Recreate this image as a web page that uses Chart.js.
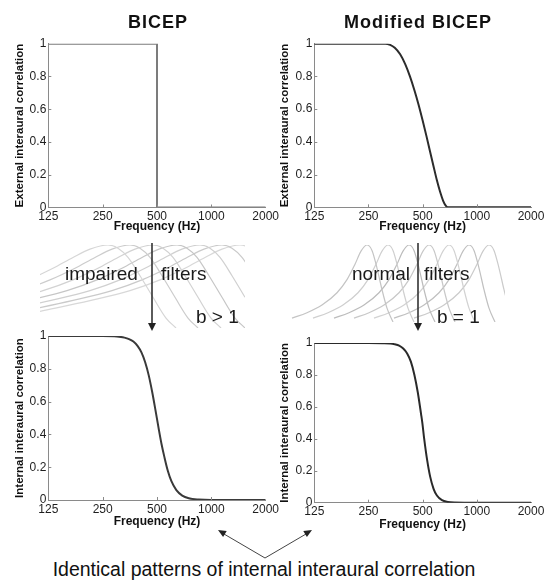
<!DOCTYPE html>
<html><head><meta charset="utf-8">
<script src="https://cdn.jsdelivr.net/npm/chart.js@4.4.1/dist/chart.umd.min.js"></script>
<style>
body{margin:0;background:#fff;width:553px;height:580px;overflow:hidden;position:relative;font-family:"Liberation Sans",Arial,sans-serif;color:#111}
canvas{position:absolute}
.t{position:absolute;white-space:nowrap;line-height:1}
svg{position:absolute;left:0;top:0}
</style></head><body>
<canvas id="fImp"></canvas>
<canvas id="fNorm"></canvas>
<canvas id="cTL"></canvas>
<canvas id="cTR"></canvas>
<canvas id="cBL"></canvas>
<canvas id="cBR"></canvas>
<div class="t" style="left:158px;top:13px;font-size:18px;font-weight:bold;letter-spacing:1px;transform:translateX(-50%)">BICEP</div>
<div class="t" style="left:418px;top:13px;font-size:18px;font-weight:bold;letter-spacing:1px;transform:translateX(-50%)">Modified BICEP</div>
<div class="t" style="left:65px;top:264px;font-size:19px;color:#1a1a1a">impaired</div>
<div class="t" style="left:161px;top:264px;font-size:19px;color:#1a1a1a">filters</div>
<div class="t" style="left:196px;top:307px;font-size:19px;color:#1a1a1a">b &gt; 1</div>
<div class="t" style="left:352px;top:264px;font-size:19px;color:#1a1a1a">normal</div>
<div class="t" style="left:424px;top:264px;font-size:19px;color:#1a1a1a">filters</div>
<div class="t" style="left:437px;top:307px;font-size:19px;color:#1a1a1a">b = 1</div>
<div class="t" style="left:264px;top:560px;font-size:19.5px;color:#111;transform:translateX(-50%)">Identical patterns of internal interaural correlation</div>
<svg width="553" height="580">
<line x1="152" y1="243" x2="152" y2="324" stroke="#333" stroke-width="1.6"/>
<polygon points="148,323 156,323 152,331" fill="#222"/>
<line x1="418" y1="243" x2="418" y2="324" stroke="#333" stroke-width="1.6"/>
<polygon points="414,323 422,323 418,331" fill="#222"/>
<line x1="265" y1="558" x2="224" y2="534" stroke="#444" stroke-width="1"/>
<polygon points="218,530 226.7,531.1 223.1,537.1" fill="#222"/>
<line x1="265" y1="558" x2="306" y2="534" stroke="#444" stroke-width="1"/>
<polygon points="312,530 306.9,537.1 303.3,531.1" fill="#222"/>
</svg>
<script>
// ---- data ----
const freqTicks = [125, 250, 500, 1000, 2000];
const corrTicks = [0, 0.2, 0.4, 0.6, 0.8, 1];

const bicepFreq = [125, 500, 500, 2000];
const bicepCorr = [1, 1, 0, 0];

const modFreq = [125, 250, 310, 330, 350, 375, 400, 425, 450, 475, 500, 525, 550, 575, 600, 625, 650, 670, 690, 800, 2000];
const modCorr = [1, 1, 1, 0.993, 0.975, 0.935, 0.875, 0.8, 0.715, 0.625, 0.53, 0.435, 0.34, 0.25, 0.165, 0.095, 0.04, 0.012, 0, 0, 0];

const intImpFreq = [125, 250, 300, 330, 350, 370, 390, 410, 430, 450, 470, 490, 510, 530, 550, 575, 600, 640, 690, 750, 850, 1000, 2000];
const intImpCorr = [1, 1, 0.997, 0.99, 0.981, 0.966, 0.94, 0.9, 0.84, 0.76, 0.66, 0.55, 0.44, 0.34, 0.26, 0.175, 0.116, 0.06, 0.027, 0.011, 0.003, 0, 0];

const intNormFreq = [125, 250, 300, 330, 350, 370, 390, 410, 430, 450, 470, 490, 498, 510, 530, 550, 575, 600, 640, 690, 750, 850, 2000];
const intNormCorr = [1, 1, 0.999, 0.997, 0.992, 0.984, 0.966, 0.935, 0.883, 0.8, 0.69, 0.555, 0.5, 0.4, 0.265, 0.165, 0.087, 0.045, 0.016, 0.005, 0.001, 0, 0];

// filter illustration (position along an abstract frequency strip, relative response)
const impairedShapeDx = [-200, -150, -110, -80, -55, -35, -18, 0, 10, 20, 32, 45, 58, 68];
const impairedShapeR  = [0.2, 0.33, 0.45, 0.58, 0.72, 0.85, 0.95, 1, 0.96, 0.85, 0.63, 0.37, 0.12, 0];
const impairedPeaks   = [108, 130, 153, 177, 200, 222, 240];
const normalShapeDx = [-75, -60, -45, -30, -20, -12, -6, 0, 5, 10, 15, 20, 26];
const normalShapeR  = [0.05, 0.12, 0.22, 0.38, 0.55, 0.75, 0.92, 1, 0.93, 0.7, 0.42, 0.18, 0];
const normalPeaks   = [367, 388, 409, 429, 449, 469, 489];

const impairedGrays = ['#d6d6d6', '#cccccc', '#d2d2d2', '#c6c6c6', '#d0d0d0', '#cacaca', '#d8d8d8'];
const normalGrays   = ['#c4c4c4', '#cfcfcf', '#bcbcbc', '#c8c8c8', '#d2d2d2', '#c0c0c0', '#cbcbcb'];

const FONT = '"Liberation Sans", Arial, sans-serif';
Chart.defaults.font.family = FONT;

const innerTicks = {
  id: 'innerTicks',
  afterDatasetsDraw(chart) {
    const {ctx, chartArea: a, scales: {x, y}} = chart;
    ctx.save();
    ctx.strokeStyle = '#8a8a8a';
    ctx.lineWidth = 1;
    ctx.beginPath();
    freqTicks.slice(1, -1).forEach(v => {
      const p = Math.round(x.getPixelForValue(v)) + 0.5;
      ctx.moveTo(p, a.bottom); ctx.lineTo(p, a.bottom - 3);
    });
    corrTicks.slice(1, -1).forEach(v => {
      const p = Math.round(y.getPixelForValue(v)) + 0.5;
      ctx.moveTo(a.left, p); ctx.lineTo(a.left + 3, p);
    });
    ctx.stroke();
    ctx.restore();
  }
};

function pts(xs, ys) { return xs.map((v, i) => ({x: v, y: ys[i]})); }

function makePanel(id, box, plot, xTitleY, yTitleX, yTitle, ds) {
  const c = document.getElementById(id);
  c.style.left = box.x + 'px'; c.style.top = box.y + 'px';
  c.width = box.w; c.height = box.h;
  c.style.width = box.w + 'px'; c.style.height = box.h + 'px';
  const yAxisW = plot.L - box.x;
  const xAxisH = (xTitleY + 7.2) - plot.B;
  const padTop = plot.T - box.y;
  const padRight = box.x + box.w - plot.R;
  const padBottom = box.y + box.h - plot.B - xAxisH;
  new Chart(c, {
    type: 'line',
    data: {datasets: ds},
    options: {
      responsive: false, animation: false, devicePixelRatio: 1,
      layout: {padding: {left: 0, top: padTop, right: padRight, bottom: padBottom}},
      plugins: {legend: {display: false}, tooltip: {enabled: false}},
      elements: {point: {radius: 0}},
      scales: {
        x: {
          type: 'logarithmic', min: 125, max: 2000,
          afterBuildTicks: s => { s.ticks = freqTicks.map(v => ({value: v})); },
          afterFit: s => { s.height = xAxisH; },
          grid: {display: true, drawOnChartArea: false, drawTicks: false},
          border: {display: true, color: '#8a8a8a', width: 1},
          ticks: {autoSkip: false, maxRotation: 0, padding: 2, color: '#1e1e1e',
                  font: {size: 12}, callback: v => String(v)},
          title: {display: true, text: 'Frequency (Hz)', color: '#111',
                  font: {size: 12, weight: 'bold'}, padding: {top: 0, bottom: 0}}
        },
        y: {
          min: 0, max: 1,
          afterBuildTicks: s => { s.ticks = corrTicks.map(v => ({value: v})); },
          afterFit: s => { s.width = yAxisW; },
          grid: {display: true, drawOnChartArea: false, drawTicks: false},
          border: {display: true, color: '#8a8a8a', width: 1},
          ticks: {padding: 2, color: '#1e1e1e', font: {size: 12},
                  callback: v => (v === 0 ? '0' : v === 1 ? '1' : v.toFixed(1))},
          title: {display: true, text: yTitle, color: '#111',
                  font: {size: 11.5, weight: 'bold'},
                  padding: {top: yTitleX - box.x - 6.9, bottom: 0}}
        }
      }
    },
    plugins: [innerTicks]
  });
}

function lineDs(xs, ys, color, w, smooth) {
  return {data: pts(xs, ys), borderColor: color, borderWidth: w, pointRadius: 0,
          tension: 0, cubicInterpolationMode: smooth ? 'monotone' : 'default', fill: false};
}

makePanel('cTL', {x: 0, y: 28, w: 290, h: 212}, {L: 48.3, T: 43.7, R: 265.7, B: 207.5}, 227, 20,
  'External interaural correlation', [lineDs(bicepFreq, bicepCorr, '#7c7c7c', 2, false)]);
makePanel('cTR', {x: 270, y: 28, w: 283, h: 212}, {L: 314.3, T: 43.7, R: 531, B: 207.3}, 227, 285,
  'External interaural correlation', [lineDs(modFreq, modCorr, '#2c2c2c', 2, true)]);
makePanel('cBL', {x: 0, y: 325, w: 290, h: 210}, {L: 48.3, T: 336, R: 265.7, B: 500}, 522, 20,
  'Internal interaural correlation', [lineDs(intImpFreq, intImpCorr, '#3a3a3a', 2, true)]);
makePanel('cBR', {x: 270, y: 330, w: 283, h: 210}, {L: 314.3, T: 343, R: 531, B: 502.7}, 525, 285,
  'Internal interaural correlation', [lineDs(intNormFreq, intNormCorr, '#2a2a2a', 2, true)]);

function makeFilters(id, box, areaTop, areaBottom, peaks, dxs, rs, grays) {
  const c = document.getElementById(id);
  c.style.left = box.x + 'px'; c.style.top = box.y + 'px';
  c.width = box.w; c.height = box.h;
  c.style.width = box.w + 'px'; c.style.height = box.h + 'px';
  const ds = peaks.map((p, i) => ({
    data: dxs.map((d, k) => ({x: p + d, y: rs[k]})),
    borderColor: grays[i % grays.length], borderWidth: 1.2, pointRadius: 0,
    cubicInterpolationMode: 'monotone', fill: false
  }));
  new Chart(c, {
    type: 'line',
    data: {datasets: ds},
    options: {
      responsive: false, animation: false, devicePixelRatio: 1,
      layout: {padding: {left: 0, right: 0, top: areaTop - box.y, bottom: box.y + box.h - areaBottom}},
      plugins: {legend: {display: false}, tooltip: {enabled: false}},
      scales: {
        x: {type: 'linear', min: box.x, max: box.x + box.w, display: false},
        y: {min: 0, max: 1, display: false}
      }
    }
  });
}

makeFilters('fImp', {x: 40, y: 242, w: 205, h: 89}, 245, 328, impairedPeaks, impairedShapeDx, impairedShapeR, impairedGrays);
makeFilters('fNorm', {x: 290, y: 242, w: 215, h: 83}, 245, 322, normalPeaks, normalShapeDx, normalShapeR, normalGrays);
</script>
</body></html>
